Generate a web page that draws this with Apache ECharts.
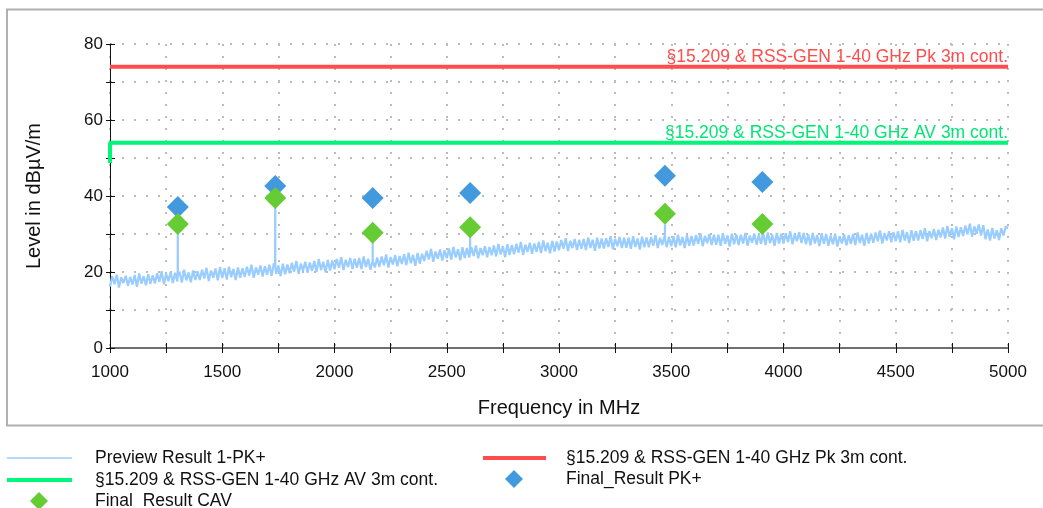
<!DOCTYPE html>
<html>
<head>
<meta charset="utf-8">
<script src="https://cdn.jsdelivr.net/npm/echarts@6/dist/echarts.min.js"></script>
<style>
  html, body { margin: 0; padding: 0; background: #fff; }
  #chartDiv { width: 1043px; height: 508px; }
</style>
</head>
<body>
<div id="chartDiv"></div>
<script>
// 扫描预览曲线：从 1000 MHz 开始，每 10 MHz 一个点（每行 100 MHz）
const previewStart = 1000;
const previewStep = 10;
const previewLevel = [
    16.2, 18.9, 16.8, 19.3, 15.9, 18.6, 17.1, 19.0, 16.4, 18.7,
    16.7, 19.2, 16.1, 19.6, 17.0, 18.9, 16.5, 19.4, 16.9, 19.1,
    17.0, 19.7, 17.4, 20.2, 16.8, 19.5, 17.6, 20.0, 17.1, 19.8,
    17.5, 20.1, 17.2, 20.6, 17.8, 19.9, 17.3, 20.4, 17.9, 20.2,
    17.9, 20.6, 18.3, 21.1, 17.6, 20.4, 18.5, 20.9, 17.8, 21.3,
    18.4, 21.0, 18.0, 21.4, 18.6, 20.8, 17.9, 21.2, 18.5, 21.0,
    18.7, 21.4, 19.1, 21.9, 18.5, 21.2, 19.3, 21.7, 18.8, 21.5,
    19.3, 21.9, 19.0, 22.3, 19.5, 21.7, 18.9, 22.2, 19.4, 22.0,
    19.7, 22.4, 20.1, 22.9, 19.5, 22.2, 20.3, 22.7, 19.8, 22.5,
    20.3, 22.9, 20.0, 23.4, 20.5, 22.7, 19.9, 23.2, 20.4, 23.0,
    20.7, 23.4, 21.1, 23.9, 20.5, 23.2, 21.3, 23.7, 20.8, 23.5,
    21.1, 23.7, 20.8, 24.1, 21.3, 23.5, 20.6, 24.0, 21.2, 23.8,
    21.4, 24.1, 21.8, 24.6, 21.2, 23.9, 22.0, 24.4, 21.5, 24.2,
    22.1, 24.7, 21.8, 25.1, 22.3, 24.5, 21.6, 25.0, 22.2, 24.8,
    22.9, 25.6, 23.3, 26.1, 22.7, 25.4, 23.5, 25.9, 23.0, 25.7,
    23.6, 26.2, 23.3, 26.6, 23.8, 26.0, 23.1, 26.5, 23.7, 26.3,
    23.8, 26.5, 24.2, 27.0, 23.6, 26.3, 24.4, 26.8, 23.9, 26.6,
    24.4, 27.0, 24.1, 27.4, 24.6, 26.8, 23.9, 27.3, 24.5, 27.1,
    24.7, 27.4, 25.1, 27.9, 24.5, 27.2, 25.3, 27.7, 24.8, 27.5,
    25.3, 27.9, 25.0, 28.3, 25.5, 27.7, 24.9, 28.2, 25.4, 28.0,
    25.7, 28.4, 26.1, 28.9, 25.5, 28.2, 26.3, 28.7, 25.8, 28.5,
    26.1, 28.7, 25.8, 29.1, 26.3, 28.5, 25.6, 29.0, 26.2, 28.8,
    26.2, 28.9, 26.6, 29.4, 26.0, 28.7, 26.8, 29.2, 26.3, 29.0,
    26.4, 29.0, 26.1, 29.4, 26.6, 28.8, 25.9, 29.3, 26.5, 29.1,
    26.5, 29.2, 26.9, 29.7, 26.3, 29.0, 27.1, 29.5, 26.6, 29.3,
    26.8, 29.4, 26.5, 29.8, 27.0, 29.2, 26.3, 29.7, 26.9, 29.5,
    27.0, 29.7, 27.4, 30.2, 26.8, 29.5, 27.6, 30.0, 27.1, 29.8,
    27.2, 29.8, 26.9, 30.2, 27.4, 29.6, 26.7, 30.1, 27.3, 29.9,
    27.1, 29.8, 27.5, 30.3, 26.9, 29.6, 27.7, 30.1, 27.2, 29.9,
    27.4, 30.0, 27.1, 30.4, 27.6, 29.8, 26.9, 30.3, 27.5, 30.1,
    27.5, 30.2, 27.9, 30.7, 27.3, 30.0, 28.1, 30.5, 27.6, 30.3,
    27.3, 29.9, 27.0, 30.3, 27.5, 29.7, 26.8, 30.2, 27.4, 30.0,
    26.9, 29.6, 27.3, 30.1, 26.7, 29.4, 27.5, 29.9, 27.0, 29.7,
    27.4, 30.0, 27.1, 30.4, 27.6, 29.8, 26.9, 30.3, 27.5, 30.1,
    27.7, 30.4, 28.1, 30.9, 27.5, 30.2, 28.3, 30.7, 27.8, 30.5,
    28.1, 30.7, 27.8, 31.1, 28.3, 30.5, 27.6, 31.0, 28.2, 30.8,
    28.3, 31.0, 28.7, 31.5, 28.1, 30.8, 28.9, 31.3, 28.4, 31.1,
    29.1, 31.7, 28.8, 32.1, 29.3, 31.5, 28.6, 32.0, 29.2, 31.8,
    29.5, 32.2, 29.9, 32.7, 29.3, 32.0, 30.1, 32.5, 29.6, 32.3,
    28.6, 31.2, 28.3, 31.6, 28.8, 31.0, 28.4, 31.5, 29.6, 32.0,
    31.5
];
// 预览曲线在最终测量点处的尖峰
const spikeFreq = [1302, 1736, 2170, 2604, 3472, 3906];
const spikeBase = [19.0, 21.5, 22.8, 25.0, 28.5, 29.0];
const spikePeak = [32.5, 39.5, 28.0, 30.0, 32.5, 31.0];

// 最终测量结果
const finalFreq = [1302, 1736, 2170, 2604, 3472, 3906];
const finalPk = [37.1, 42.6, 39.5, 40.8, 45.3, 43.7];
const finalCav = [32.6, 39.5, 30.3, 31.8, 35.3, 32.6];

// 限值线
const limitFreq = [1000, 5000];
const limitPk = [74, 74];
const limitAvStart = 48.7;
const limitAv = [54, 54];

const namePreview = "Preview Result 1-PK+";
const namePk = "§15.209 & RSS-GEN 1-40 GHz Pk 3m cont.";
const nameAv = "§15.209 & RSS-GEN 1-40 GHz AV 3m cont.";
const namePkRes = "Final_Result PK+";
const nameCav = "Final_Result CAV";

const colPreview = "#99ccff";
const colPk = "#ff4d4d";
const colAv = "#00f57a";
const colPkRes = "#4299dd";
const colCav = "#66cc33";

const fontName = "'Liberation Sans', Arial, sans-serif";

// 组装预览数据（把尖峰插进去）
let previewData = [];
for (let i = 0; i < previewLevel.length; i++) {
    previewData.push([previewStart + i * previewStep, previewLevel[i]]);
}
for (let k = 0; k < spikeFreq.length; k++) {
    previewData.push([spikeFreq[k] - 0.4, spikeBase[k]]);
    previewData.push([spikeFreq[k], spikePeak[k]]);
    previewData.push([spikeFreq[k] + 0.4, spikeBase[k]]);
}
previewData.sort(function (a, b) {
    return a[0] - b[0];
});

let pkLimitData = limitFreq.map((f, i) => [f, limitPk[i]]);
let avLimitData = [[limitFreq[0], limitAvStart]].concat(limitFreq.map((f, i) => [f, limitAv[i]]));
let pkResData = finalFreq.map((f, i) => [f, finalPk[i]]);
let cavData = finalFreq.map((f, i) => [f, finalCav[i]]);

let chart = echarts.init(document.getElementById("chartDiv"));

const dotted = {
    color: "#bbbbbb",
    width: 2,
    type: [2, 10],
};

// 图例：每项单独一个，方便按参考图摆位置
function legendItem(name, left, top, icon, w, h, pad) {
    return {
        left: left,
        top: top,
        padding: 0,
        orient: "vertical",
        itemWidth: w,
        itemHeight: h,
        icon: icon,
        selectedMode: false,
        textStyle: {
            color: "#111",
            fontSize: 17.5,
            fontFamily: fontName,
            lineHeight: 16,
            padding: [0, 0, 0, pad],
        },
        data: [name],
    };
}

chart.setOption({
    animation: false,
    backgroundColor: "#fff",
    textStyle: {
        fontFamily: fontName,
    },
    graphic: [
        {
            type: "rect",
            shape: { x: 7, y: 9.5, width: 1060, height: 416 },
            style: { fill: "none", stroke: "#b0b0b0", lineWidth: 2 },
            silent: true,
            z: -1,
        },
    ],
    grid: {
        left: 110,
        right: 35,
        top: 44,
        bottom: 160,
    },
    legend: [
        legendItem(namePreview, 7, 449, "rect", 65, 1.5, 18),
        legendItem(nameAv, 7, 471, "rect", 65, 4, 18),
        legendItem(nameCav, 30, 492, "diamond", 18, 18, 42),
        legendItem(namePk, 483, 449, "rect", 63, 4, 15),
        legendItem(namePkRes, 505, 470, "diamond", 18, 18, 38),
    ],
    xAxis: [
        {
            type: "value",
            min: 1000,
            max: 5000,
            interval: 250,
            name: "Frequency in MHz",
            nameLocation: "middle",
            nameGap: 50,
            nameTextStyle: { fontSize: 20, color: "#111", fontFamily: fontName },
            axisLine: { lineStyle: { color: "#707070", width: 2 } },
            axisTick: { length: 5, lineStyle: { color: "#111" } },
            axisLabel: {
                fontSize: 17,
                color: "#111",
                margin: 16,
                formatter: function (v) {
                    return v % 500 === 0 ? v : "";
                },
            },
            splitLine: { show: true, lineStyle: dotted },
        },
        {
            // 只画朝内的刻度，让刻度穿过轴线
            type: "value",
            position: "bottom",
            min: 1000,
            max: 5000,
            interval: 250,
            axisLine: { show: false },
            axisTick: { inside: true, length: 5, lineStyle: { color: "#111" } },
            axisLabel: { show: false },
            splitLine: { show: false },
        },
    ],
    yAxis: [
        {
            type: "value",
            min: 0,
            max: 80,
            interval: 10,
            name: "Level in dBµV/m",
            nameLocation: "middle",
            nameGap: 66,
            nameTextStyle: { fontSize: 20, color: "#111", fontFamily: fontName },
            axisLine: { show: true, lineStyle: { color: "#111", width: 1 } },
            axisTick: { show: true, length: 4, lineStyle: { color: "#111" } },
            axisLabel: {
                fontSize: 17,
                color: "#111",
                margin: 7,
                formatter: function (v) {
                    return v % 20 === 0 ? v : "";
                },
            },
            splitLine: { show: true, lineStyle: dotted },
        },
        {
            type: "value",
            position: "left",
            min: 0,
            max: 80,
            interval: 10,
            axisLine: { show: false },
            axisTick: { show: true, inside: true, length: 5, lineStyle: { color: "#111" } },
            axisLabel: { show: false },
            splitLine: { show: false },
        },
    ],
    series: [
        {
            name: namePreview,
            type: "line",
            data: previewData,
            symbol: "none",
            lineStyle: { color: colPreview, width: 2.2 },
            itemStyle: { color: colPreview },
            z: 1,
        },
        {
            name: namePk,
            type: "line",
            data: pkLimitData,
            symbol: "none",
            lineStyle: { color: colPk, width: 4 },
            itemStyle: { color: colPk },
            z: 3,
            markLine: {
                silent: true,
                symbol: "none",
                lineStyle: { color: "rgba(0,0,0,0)", width: 0 },
                label: {
                    show: true,
                    position: "insideEndTop",
                    distance: [0, 1],
                    color: colPk,
                    fontSize: 17.5,
                    fontFamily: fontName,
                    formatter: namePk,
                },
                data: [{ yAxis: limitPk[0] }],
            },
        },
        {
            name: nameAv,
            type: "line",
            data: avLimitData,
            symbol: "none",
            lineStyle: { color: colAv, width: 4 },
            itemStyle: { color: colAv },
            z: 3,
            markLine: {
                silent: true,
                symbol: "none",
                lineStyle: { color: "rgba(0,0,0,0)", width: 0 },
                label: {
                    show: true,
                    position: "insideEndTop",
                    distance: [0, 1],
                    color: "#00e673",
                    fontSize: 17.5,
                    fontFamily: fontName,
                    formatter: nameAv,
                },
                data: [{ yAxis: limitAv[0] }],
            },
        },
        {
            name: namePkRes,
            type: "scatter",
            data: pkResData,
            symbol: "diamond",
            symbolSize: 22,
            itemStyle: { color: colPkRes, opacity: 1 },
            z: 4,
        },
        {
            name: nameCav,
            type: "scatter",
            data: cavData,
            symbol: "diamond",
            symbolSize: 22,
            itemStyle: { color: colCav, opacity: 1 },
            z: 5,
        },
    ],
});
</script>
</body>
</html>
